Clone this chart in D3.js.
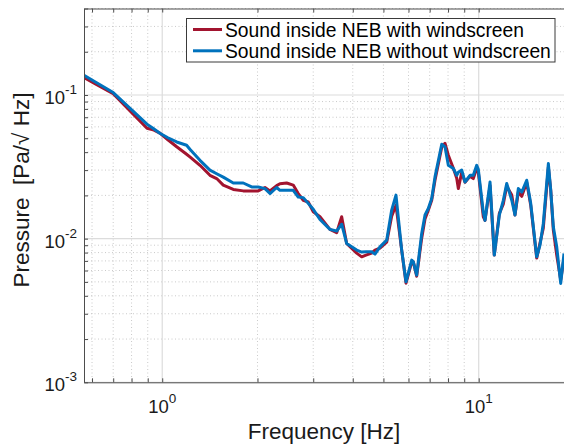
<!DOCTYPE html>
<html>
<head>
<meta charset="utf-8">
<script src="https://cdn.jsdelivr.net/npm/d3@7"></script>
<style>
  html, body { margin: 0; padding: 0; background: #fff; }
  svg { display: block; font-family: "Liberation Sans", Arial, Helvetica, sans-serif; }
</style>
</head>
<body>
<svg id="chart" width="564" height="445"></svg>
<script>
// Data
const freqHz = [0.566, 0.613, 0.700, 0.790, 0.895, 0.935, 0.983, 1.042, 1.111, 1.194,
    1.223, 1.316, 1.415, 1.486, 1.559, 1.677, 1.803, 1.917, 2.011, 2.112,
    2.190, 2.299, 2.355, 2.473, 2.594, 2.690, 2.790, 2.893, 3.001, 3.151,
    3.388, 3.558, 3.690, 3.826, 4.116, 4.268, 4.404, 4.589, 4.701, 4.875,
    5.120, 5.309, 5.478, 5.710, 5.892, 6.142, 6.214, 6.368, 6.605, 6.766,
    6.930, 7.104, 7.276, 7.642, 7.827, 8.017, 8.314, 8.522, 8.622, 8.838,
    9.052, 9.387, 9.614, 9.856, 9.970, 10.34, 10.47, 10.86, 11.20, 11.62,
    11.96, 12.26, 12.72, 13.02, 13.34, 13.68, 14.18, 14.60, 15.25, 15.62,
    16.00, 16.60, 16.89, 17.21, 17.64, 18.16, 18.60];

const withScreen = [0.132, 0.120, 0.102, 0.0777, 0.0587, 0.0573, 0.0542, 0.0488, 0.0436, 0.0387,
    0.0371, 0.0324, 0.0276, 0.0262, 0.0236, 0.0220, 0.0215, 0.0215, 0.0215, 0.0227,
    0.0215, 0.0234, 0.0241, 0.0244, 0.0236, 0.0206, 0.0185, 0.0180, 0.0154, 0.0142,
    0.0116, 0.0110, 0.0142, 0.00926, 0.00793, 0.00747, 0.00768, 0.00793, 0.00832, 0.00859,
    0.00946, 0.0143, 0.0171, 0.00832, 0.00490, 0.00686, 0.00690, 0.00548, 0.01008, 0.0137,
    0.0158, 0.0185, 0.0255, 0.0433, 0.0461, 0.0381, 0.0309, 0.0263, 0.0223, 0.0290,
    0.0247, 0.0272, 0.0262, 0.0309, 0.0291, 0.0142, 0.0134, 0.0234, 0.00768, 0.0150,
    0.0174, 0.0232, 0.0201, 0.0146, 0.0211, 0.0197, 0.0247, 0.0171, 0.00732, 0.00930,
    0.01183, 0.0314, 0.0217, 0.01146, 0.00768, 0.00515, 0.00732];

const withoutScreen = [0.137, 0.1235, 0.104, 0.0810, 0.0626, 0.0587, 0.0542, 0.0504, 0.0471, 0.0447,
    0.0419, 0.0351, 0.0300, 0.0283, 0.0268, 0.0244, 0.0244, 0.0229, 0.0229, 0.0223,
    0.0206, 0.0227, 0.0217, 0.0217, 0.0217, 0.0195, 0.0193, 0.0176, 0.0160, 0.0136,
    0.0116, 0.0113, 0.0126, 0.00926, 0.00832, 0.00806, 0.00812, 0.00810, 0.00780, 0.00877,
    0.00976, 0.0158, 0.0201, 0.00832, 0.00501, 0.00709, 0.00690, 0.00557, 0.01087, 0.0146,
    0.0162, 0.0190, 0.0269, 0.0454, 0.0435, 0.0324, 0.0308, 0.0276, 0.0290, 0.0300,
    0.0248, 0.0276, 0.0276, 0.0324, 0.0304, 0.0153, 0.0134, 0.0248, 0.00768, 0.0146,
    0.0185, 0.0242, 0.0185, 0.0146, 0.0223, 0.0211, 0.0255, 0.0176, 0.00747, 0.00901,
    0.01275, 0.0333, 0.0217, 0.01208, 0.00877, 0.00488, 0.00789];

const seriesNames = ["Sound inside NEB with windscreen", "Sound inside NEB without windscreen"];
const seriesColors = ["#a2142f", "#0072bd"];

const xTickLabels = [{value: 1, exp: "0"}, {value: 10, exp: "1"}];
const yTickLabels = [{value: 1e-1, exp: "-1"}, {value: 1e-2, exp: "-2"}, {value: 1e-3, exp: "-3"}];

const xLabel = "Frequency [Hz]";
const yLabel = "Pressure  [Pa/\u221A Hz]";

// Layout
const svg = d3.select("#chart");
const plot = {left: 84, right: 564, top: 8.5, bottom: 382.3};

const x = d3.scaleLog().domain([0.566, 18.6]).range([plot.left, plot.right]);
const y = d3.scaleLog().domain([1e-3, 0.4]).range([plot.bottom, plot.top]);

// tick positions 1..9 per decade inside the domain
function logTicks(scale) {
    const [a, b] = scale.domain();
    const out = [];
    for (let e = Math.floor(Math.log10(a)); e <= Math.ceil(Math.log10(b)); e++) {
        for (let k = 1; k <= 9; k++) {
            const v = k * Math.pow(10, e);
            if (v >= a * 0.999 && v <= b * 1.001) out.push(v);
        }
    }
    return out;
}
const xTicks = logTicks(x);
const yTicks = logTicks(y);
const isMajor = v => Math.abs(Math.log10(v) - Math.round(Math.log10(v))) < 1e-9;

// grid
const grid = svg.append("g");
grid.selectAll(".xminor").data(xTicks.filter(v => !isMajor(v))).enter().append("line")
    .attr("x1", d => x(d)).attr("x2", d => x(d))
    .attr("y1", plot.top).attr("y2", plot.bottom)
    .attr("stroke", "#bdbdbd").attr("stroke-width", 0.8).attr("stroke-dasharray", "1,2.5");
grid.selectAll(".yminor").data(yTicks.filter(v => !isMajor(v))).enter().append("line")
    .attr("x1", plot.left).attr("x2", plot.right)
    .attr("y1", d => y(d)).attr("y2", d => y(d))
    .attr("stroke", "#bdbdbd").attr("stroke-width", 0.8).attr("stroke-dasharray", "1,2.5");
grid.selectAll(".xmajor").data(xTicks.filter(isMajor)).enter().append("line")
    .attr("x1", d => x(d)).attr("x2", d => x(d))
    .attr("y1", plot.top).attr("y2", plot.bottom)
    .attr("stroke", "#dcdcdc").attr("stroke-width", 1.2);
grid.selectAll(".ymajor").data(yTicks.filter(isMajor)).enter().append("line")
    .attr("x1", plot.left).attr("x2", plot.right)
    .attr("y1", d => y(d)).attr("y2", d => y(d))
    .attr("stroke", "#dcdcdc").attr("stroke-width", 1.2);

// series
svg.append("clipPath").attr("id", "clip").append("rect")
    .attr("x", plot.left).attr("y", plot.top)
    .attr("width", plot.right - plot.left).attr("height", plot.bottom - plot.top);

const line = d3.line()
    .x(d => x(d.f))
    .y(d => y(d.v));

[withScreen, withoutScreen].forEach((vals, i) => {
    const data = freqHz.map((f, j) => ({f: f, v: vals[j]}));
    svg.append("path")
        .datum(data)
        .attr("clip-path", "url(#clip)")
        .attr("fill", "none")
        .attr("stroke", seriesColors[i])
        .attr("stroke-width", 3)
        .attr("stroke-linejoin", "round")
        .attr("d", line);
});

// axes (ticks point inward)
const axisColor = "#4d4d4d";
svg.append("g")
    .attr("transform", `translate(0,${plot.bottom})`)
    .call(d3.axisBottom(x).tickValues(xTicks).tickSize(-4).tickSizeOuter(0).tickFormat(""))
    .call(g => g.selectAll("line,path").attr("stroke", axisColor));
svg.append("g")
    .attr("transform", `translate(0,${plot.top})`)
    .call(d3.axisTop(x).tickValues(xTicks).tickSize(-4).tickSizeOuter(0).tickFormat(""))
    .call(g => g.selectAll("line,path").attr("stroke", axisColor));
svg.append("g")
    .attr("transform", `translate(${plot.left},0)`)
    .call(d3.axisLeft(y).tickValues(yTicks).tickSize(-4).tickSizeOuter(0).tickFormat(""))
    .call(g => g.selectAll("line,path").attr("stroke", axisColor));

// tick labels as 10^n
const xl = svg.append("g").selectAll("text").data(xTickLabels).enter().append("text")
    .attr("x", d => x(d.value)).attr("y", 413)
    .attr("text-anchor", "middle").attr("fill", "#1a1a1a").attr("font-size", 18.5);
xl.append("tspan").text("10");
xl.append("tspan").attr("font-size", 13.5).attr("dy", -10).text(d => d.exp);

const yl = svg.append("g").selectAll("text").data(yTickLabels).enter().append("text")
    .attr("x", 77).attr("y", d => y(d.value) + 9)
    .attr("text-anchor", "end").attr("fill", "#1a1a1a").attr("font-size", 18.5);
yl.append("tspan").text("10");
yl.append("tspan").attr("font-size", 13.5).attr("dy", -10).text(d => d.exp);

// axis titles
svg.append("text")
    .attr("x", (plot.left + plot.right) / 2).attr("y", 439)
    .attr("text-anchor", "middle").attr("font-size", 22.5).attr("fill", "#1a1a1a")
    .text(xLabel);
svg.append("text")
    .attr("transform", "translate(29,190) rotate(-90)")
    .attr("text-anchor", "middle").attr("font-size", 22.5).attr("fill", "#1a1a1a")
    .style("white-space", "pre")
    .text(yLabel);

// legend
const legend = svg.append("g");
legend.append("rect")
    .attr("x", 186.5).attr("y", 18.5).attr("width", 368.5).attr("height", 43.5)
    .attr("fill", "#fff").attr("stroke", "#3a3a3a").attr("stroke-width", 1);
seriesNames.forEach((name, i) => {
    const ly = 29.5 + i * 21.3;
    legend.append("line")
        .attr("x1", 193).attr("x2", 222).attr("y1", ly).attr("y2", ly)
        .attr("stroke", seriesColors[i]).attr("stroke-width", 3);
    legend.append("text")
        .attr("x", 225).attr("y", ly + 7)
        .attr("font-size", 19.3).attr("fill", "#000")
        .text(name);
});
</script>
</body>
</html>
